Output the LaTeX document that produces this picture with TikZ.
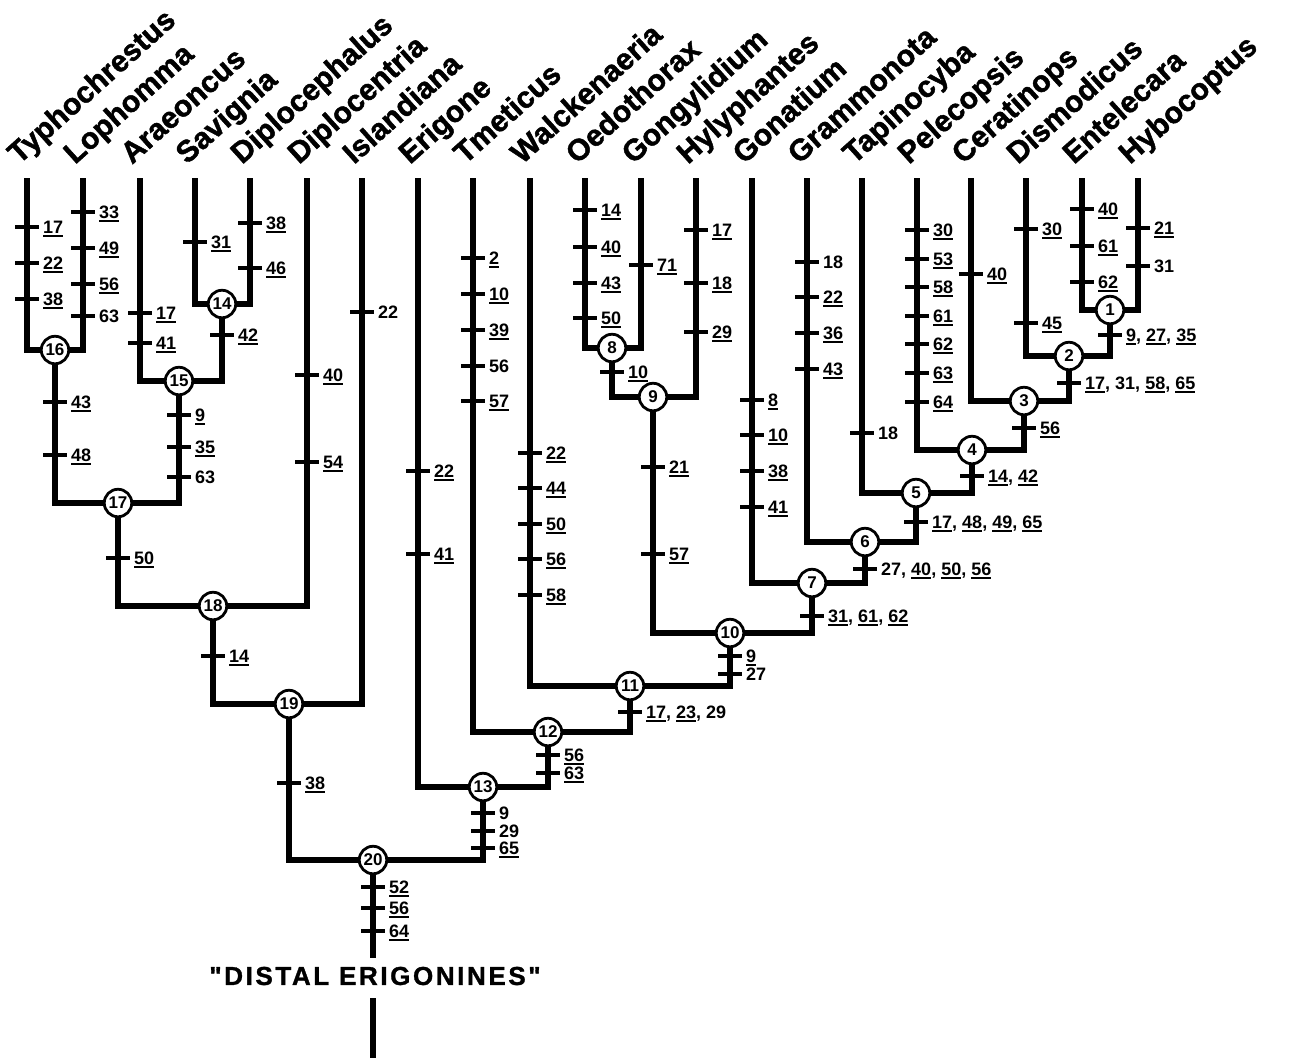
\documentclass[tikz,border=0pt]{standalone}
\usepackage{fontspec}
\setmainfont{Liberation Sans}
\newfontfamily\distfont[LetterSpace=10,FakeBold=1.2]{Liberation Sans}
\newfontfamily\taxfont[FakeBold=1.5]{Liberation Sans}
\pgfdeclarelayer{bg}
\pgfsetlayers{bg,main}
\newcommand\undl[1]{\setbox0=\hbox{#1}\rlap{\vrule width\wd0 height -1pt depth 3pt}\box0}
\newcounter{labc}
\newcommand\chr[3]{%
  \draw[tk] ({#1-12},#2) -- ({#1+12},#2);
  \stepcounter{labc}%
  \node[lab] (lab\arabic{labc}) at ({#1+16},{#2+6.5}) {#3};}
\tikzset{
  br/.style={line width=5.5pt, line join=miter},
  tk/.style={line width=4.5pt},
  cn/.style={circle, draw, fill=white, line width=2.8pt, minimum size=27.5pt, inner sep=0pt, font=\fontsize{17}{17}\selectfont\bfseries},
  lab/.style={anchor=base west, inner sep=0pt, font=\fontsize{18}{18}\selectfont\bfseries},
  taxon/.style={anchor=base west, rotate=42, inner sep=0pt, font=\taxfont\bfseries\fontsize{30}{30}\selectfont},
}
\begin{document}
\begin{tikzpicture}[x=1pt,y=-1pt]
\useasboundingbox (0,0) rectangle (1289,1058);
% taxa
\foreach \x/\nm [count=\i] in {27/Typhochrestus,83/Lophomma,140/Araeoncus,195/Savignia,250/Diplocephalus,307/Diplocentria,362/Islandiana,418/Erigone,473/Tmeticus,530/Walckenaeria,585/Oedothorax,641/Gongylidium,696/Hylyphantes,752/Gonatium,807/Grammonota,862/Tapinocyba,917/Pelecopsis,971/Ceratinops,1026/Dismodicus,1082/Entelecara,1138/Hybocoptus}{
  \coordinate (t\i) at (\x,178);
  \node[taxon] (name\i) at (\x-8,165) {\nm};
}
% internal nodes
\node[cn] (n1) at (1110,310) {1};
\node[cn] (n2) at (1069,356) {2};
\node[cn] (n3) at (1024,401) {3};
\node[cn] (n4) at (972,450) {4};
\node[cn] (n5) at (916,493) {5};
\node[cn] (n6) at (865,542) {6};
\node[cn] (n7) at (812,583) {7};
\node[cn] (n8) at (612,348) {8};
\node[cn] (n9) at (653,397) {9};
\node[cn] (n10) at (730,633) {10};
\node[cn] (n11) at (630,686) {11};
\node[cn] (n12) at (548,732) {12};
\node[cn] (n13) at (483,787) {13};
\node[cn] (n14) at (222,304) {14};
\node[cn] (n15) at (179,381) {15};
\node[cn] (n16) at (55,350) {16};
\node[cn] (n17) at (118,503) {17};
\node[cn] (n18) at (213,606) {18};
\node[cn] (n19) at (289,704) {19};
\node[cn] (n20) at (373,860) {20};
\coordinate (r1) at (373,958);
\coordinate (r2) at (373,998);
\coordinate (r3) at (373,1058);
\node[font=\distfont\bfseries\fontsize{26}{26}\selectfont, inner sep=0pt] (distal) at (375,976) {"DISTAL ERIGONINES"};
% branches
\begin{pgfonlayer}{bg}
\fill[white] (0,0) rectangle (1289,1058);
\draw[br] (t20) |- (n1.center) -| (t21);
\draw[br] (t19) |- (n2.center) -| (n1.center);
\draw[br] (t18) |- (n3.center) -| (n2.center);
\draw[br] (t17) |- (n4.center) -| (n3.center);
\draw[br] (t16) |- (n5.center) -| (n4.center);
\draw[br] (t15) |- (n6.center) -| (n5.center);
\draw[br] (t14) |- (n7.center) -| (n6.center);
\draw[br] (t11) |- (n8.center) -| (t12);
\draw[br] (n8.center) |- (n9.center) -| (t13);
\draw[br] (n9.center) |- (n10.center) -| (n7.center);
\draw[br] (t10) |- (n11.center) -| (n10.center);
\draw[br] (t9) |- (n12.center) -| (n11.center);
\draw[br] (t8) |- (n13.center) -| (n12.center);
\draw[br] (t4) |- (n14.center) -| (t5);
\draw[br] (t3) |- (n15.center) -| (n14.center);
\draw[br] (t1) |- (n16.center) -| (t2);
\draw[br] (n16.center) |- (n17.center) -| (n15.center);
\draw[br] (n17.center) |- (n18.center) -| (t6);
\draw[br] (n18.center) |- (n19.center) -| (t7);
\draw[br] (n19.center) |- (n20.center) -| (n13.center);
\draw[br] (n20.center) -- (r1);
\draw[br] (r2) -- (r3);
\end{pgfonlayer}
% characters
\chr{27}{227}{\undl{17}}\chr{27}{263}{\undl{22}}\chr{27}{299}{\undl{38}}
\chr{83}{212}{\undl{33}}\chr{83}{248}{\undl{49}}\chr{83}{284}{\undl{56}}\chr{83}{316}{63}
\chr{140}{313}{\undl{17}}\chr{140}{343}{\undl{41}}
\chr{195}{242}{\undl{31}}
\chr{250}{223}{\undl{38}}\chr{250}{268}{\undl{46}}
\chr{222}{335}{\undl{42}}
\chr{55}{402}{\undl{43}}\chr{55}{455}{\undl{48}}
\chr{179}{415}{\undl{9}}\chr{179}{447}{\undl{35}}\chr{179}{477}{63}
\chr{307}{375}{\undl{40}}\chr{307}{462}{\undl{54}}
\chr{362}{312}{22}
\chr{418}{471}{\undl{22}}\chr{418}{554}{\undl{41}}
\chr{473}{258}{\undl{2}}\chr{473}{294}{\undl{10}}\chr{473}{330}{\undl{39}}\chr{473}{366}{56}\chr{473}{401}{\undl{57}}
\chr{530}{453}{\undl{22}}\chr{530}{488}{\undl{44}}\chr{530}{524}{\undl{50}}\chr{530}{559}{\undl{56}}\chr{530}{595}{\undl{58}}
\chr{585}{210}{\undl{14}}\chr{585}{247}{\undl{40}}\chr{585}{283}{\undl{43}}\chr{585}{318}{\undl{50}}
\chr{641}{265}{\undl{71}}
\chr{612}{372}{\undl{10}}
\chr{696}{230}{\undl{17}}\chr{696}{283}{\undl{18}}\chr{696}{332}{\undl{29}}
\chr{653}{467}{\undl{21}}\chr{653}{554}{\undl{57}}
\chr{752}{400}{\undl{8}}\chr{752}{435}{\undl{10}}\chr{752}{471}{\undl{38}}\chr{752}{507}{\undl{41}}
\chr{807}{262}{18}\chr{807}{297}{\undl{22}}\chr{807}{333}{\undl{36}}\chr{807}{369}{\undl{43}}
\chr{862}{433}{18}
\chr{917}{230}{\undl{30}}\chr{917}{259}{\undl{53}}\chr{917}{287}{\undl{58}}\chr{917}{316}{\undl{61}}\chr{917}{344}{\undl{62}}\chr{917}{373}{\undl{63}}\chr{917}{402}{\undl{64}}
\chr{971}{274}{\undl{40}}
\chr{1026}{229}{\undl{30}}\chr{1026}{323}{\undl{45}}
\chr{1082}{209}{\undl{40}}\chr{1082}{246}{\undl{61}}\chr{1082}{282}{\undl{62}}
\chr{1138}{228}{\undl{21}}\chr{1138}{266}{31}
\chr{1110}{335}{\undl{9}, \undl{27}, \undl{35}}
\chr{1069}{383}{\undl{17}, 31, \undl{58}, \undl{65}}
\chr{1024}{428}{\undl{56}}
\chr{972}{476}{\undl{14}, \undl{42}}
\chr{916}{522}{\undl{17}, \undl{48}, \undl{49}, \undl{65}}
\chr{865}{569}{27, \undl{40}, \undl{50}, \undl{56}}
\chr{812}{616}{\undl{31}, \undl{61}, \undl{62}}
\chr{730}{656}{\undl{9}}\chr{730}{674}{27}
\chr{630}{712}{\undl{17}, \undl{23}, 29}
\chr{548}{755}{\undl{56}}\chr{548}{773}{\undl{63}}
\chr{483}{813}{9}\chr{483}{831}{29}\chr{483}{848}{\undl{65}}
\chr{118}{558}{\undl{50}}
\chr{213}{656}{\undl{14}}
\chr{289}{783}{\undl{38}}
\chr{373}{887}{\undl{52}}\chr{373}{908}{\undl{56}}\chr{373}{931}{\undl{64}}
\end{tikzpicture}
\end{document}
